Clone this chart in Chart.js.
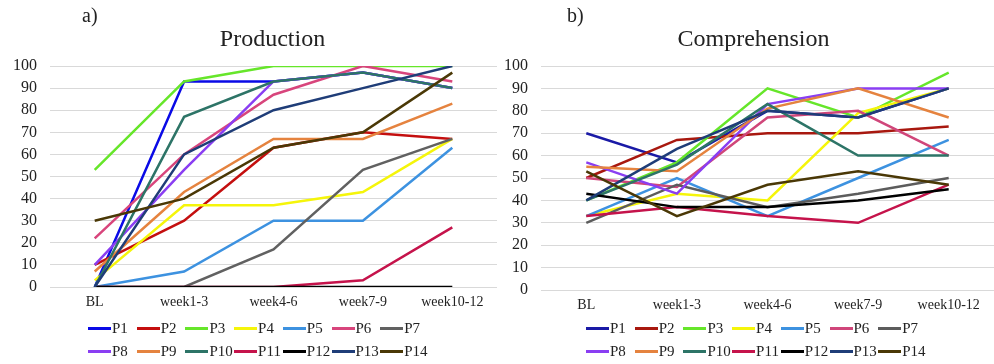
<!DOCTYPE html>
<html>
<head>
<meta charset="utf-8">
<script src="https://cdn.jsdelivr.net/npm/chart.js@4.4.1/dist/chart.umd.min.js"></script>
<style>
  body { margin: 0; background: #fff; font-family: 'Liberation Serif', 'Times New Roman', serif; color: #222; }
  .panel { position: absolute; top: 0; width: 497px; height: 364px; }
  .tag { position: absolute; top: 4px; font-size: 20px; }
  .title { position: absolute; top: 25px; width: 497px; text-align: center; font-size: 24px; }
  .legend { position: absolute; font-size: 15px; }
  .legend .item { position: absolute; white-space: nowrap; line-height: 18px; }
  .legend .sw { display: inline-block; width: 23px; height: 3px; vertical-align: middle; margin-right: 1px; position: relative; top: -1px; }
</style>
</head>
<body>
<div class="panel" style="left:0"><canvas id="production"></canvas></div>
<div class="panel" style="left:497px"><canvas id="comprehension"></canvas></div>
<div class="tag" style="left:82px">a)</div>
<div class="tag" style="left:567px">b)</div>
<div class="title" style="left:24px">Production</div>
<div class="title" style="left:505px">Comprehension</div>
<div class="legend" id="legend-a" style="left:88px;top:319px"></div>
<div class="legend" id="legend-b" style="left:586px;top:319px"></div>
<script>
const categories = ['BL', 'week1-3', 'week4-6', 'week7-9', 'week10-12'];
const participants = ['P1', 'P2', 'P3', 'P4', 'P5', 'P6', 'P7', 'P8', 'P9', 'P10', 'P11', 'P12', 'P13', 'P14'];
const yTicks = [0, 10, 20, 30, 40, 50, 60, 70, 80, 90, 100];

// production scores (a)
const prodP1 = [0, 93, 93, 97, 90];
const prodP2 = [10, 30, 63, 70, 67];
const prodP3 = [53, 93, 100, 100, 100];
const prodP4 = [3, 37, 37, 43, 67];
const prodP5 = [0, 7, 30, 30, 63];
const prodP6 = [22, 60, 87, 100, 93];
const prodP7 = [0, 0, 17, 53, 67];
const prodP8 = [10, 53, 93, 97, 90];
const prodP9 = [7, 43, 67, 67, 83];
const prodP10 = [0, 77, 93, 97, 90];
const prodP11 = [0, 0, 0, 3, 27];
const prodP12 = [0, 0, 0, 0, 0];
const prodP13 = [0, 60, 80, 90, 100];
const prodP14 = [30, 40, 63, 70, 97];

// comprehension scores (b)
const compP1 = [70, 57, 80, 77, 90];
const compP2 = [50, 67, 70, 70, 73];
const compP3 = [40, 57, 90, 77, 97];
const compP4 = [33, 43, 40, 79, 90];
const compP5 = [33, 50, 33, 50, 67];
const compP6 = [50, 46, 77, 80, 60];
const compP7 = [30, 47, 37, 43, 50];
const compP8 = [57, 43, 83, 90, 90];
const compP9 = [55, 53, 81, 90, 77];
const compP10 = [40, 56, 83, 60, 60];
const compP11 = [33, 37, 33, 30, 47];
const compP12 = [43, 37, 37, 40, 45];
const compP13 = [40, 63, 80, 77, 90];
const compP14 = [53, 33, 47, 53, 47];

const production = [prodP1, prodP2, prodP3, prodP4, prodP5, prodP6, prodP7, prodP8, prodP9, prodP10, prodP11, prodP12, prodP13, prodP14];
const comprehension = [compP1, compP2, compP3, compP4, compP5, compP6, compP7, compP8, compP9, compP10, compP11, compP12, compP13, compP14];

const colorsA = ['#0a0ae6', '#c40f0f', '#66e62a', '#f5f50a', '#3d92e0', '#d8457c', '#616161',
  '#8a3ef2', '#e5833f', '#2d7467', '#c5134b', '#000000', '#1f3d78', '#4a3806'];
const colorsB = ['#1a1aa6', '#a8180f', '#66e62a', '#f5f50a', '#3d92e0', '#d0467a', '#5c5c5c',
  '#8a3ef2', '#e5833f', '#2d7467', '#c5134b', '#000000', '#1f3d78', '#4a3806'];

const font = "'Liberation Serif', 'Times New Roman', serif";

function makeDatasets(series, colors) {
  return series.map((vals, i) => ({
    label: participants[i],
    data: vals,
    borderColor: colors[i],
    backgroundColor: colors[i],
    borderWidth: 2.5,
    pointRadius: 0,
    tension: 0,
    order: series.length - i
  }));
}

function makeChart(id, series, colors, yWidth, bottomPad) {
  return new Chart(document.getElementById(id), {
    type: 'line',
    data: { labels: categories, datasets: makeDatasets(series, colors) },
    options: {
      responsive: true,
      maintainAspectRatio: false,
      animation: false,
      layout: { padding: { top: 66, left: 0, right: 0, bottom: bottomPad } },
      plugins: { legend: { display: false }, title: { display: false }, tooltip: { enabled: false } },
      scales: {
        x: {
          offset: true,
          grid: { display: false, drawTicks: false },
          border: { display: false },
          ticks: { color: '#222', font: { family: font, size: 14 }, padding: 7, maxRotation: 0, autoSkip: false },
          afterFit: s => { s.height = 30; }
        },
        y: {
          min: 0, max: 100,
          afterBuildTicks: s => { s.ticks = yTicks.map(v => ({ value: v })); },
          grid: { color: '#d9d9d9', lineWidth: 1, drawTicks: false },
          border: { display: false },
          ticks: { color: '#222', font: { family: font, size: 16 }, padding: 13, autoSkip: false },
          afterFit: s => { s.width = yWidth; }
        }
      }
    }
  });
}

makeChart('production', production, colorsA, 50, 47);
makeChart('comprehension', comprehension, colorsB, 44, 44);

function makeLegend(id, colors) {
  const box = document.getElementById(id);
  participants.forEach((p, i) => {
    const item = document.createElement('div');
    item.className = 'item';
    item.style.left = ((i % 7) * 48.7) + 'px';
    item.style.top = (Math.floor(i / 7) * 23) + 'px';
    item.innerHTML = '<span class="sw" style="background:' + colors[i] + '"></span>' + p;
    box.appendChild(item);
  });
}
makeLegend('legend-a', colorsA);
makeLegend('legend-b', colorsB);
</script>
</body>
</html>
